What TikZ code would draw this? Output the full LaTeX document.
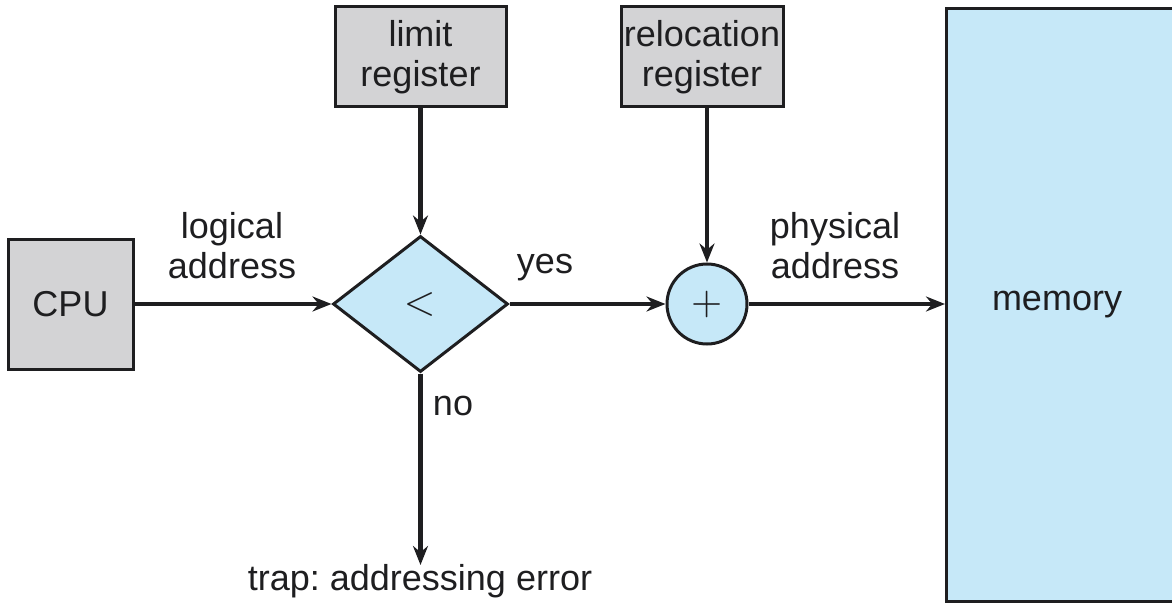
\documentclass[tikz,border=0pt]{standalone}
\usepackage{fontspec}
\setmainfont{Liberation Sans}
\newfontfamily\opfont{Latin Modern Math}
\frenchspacing
\usetikzlibrary{shapes.geometric,arrows.meta}
\definecolor{regfill}{RGB}{211,211,213}
\definecolor{memfill}{RGB}{198,232,248}
\definecolor{ink}{RGB}{30,30,32}
\tikzset{
  lbl/.style={font=\fontsize{36}{40}\selectfont, text=ink, align=center, inner sep=0pt},
  shapeline/.style={draw=ink, line width=3pt},
  regbox/.style={shapeline, fill=regfill, minimum width=171pt, minimum height=100pt, lbl},
  flow/.style={draw=ink, line width=4.2pt, -{Stealth[length=19pt,width=15pt]}},
  op/.style={shapeline, fill=memfill, inner sep=0pt, text=ink, font=\opfont\fontsize{40}{40}\selectfont},
}
\begin{document}
\begin{tikzpicture}[x=1pt,y=-1pt]
\useasboundingbox (0,0) rectangle (1172,604);
% memory block runs off the right edge
\begin{scope}
\clip (0,0) rectangle (1172,604);
\node[shapeline, fill=memfill, minimum width=240pt, minimum height=593pt, anchor=north west, inner sep=0pt] (mem) at (945,7) {};
\end{scope}
\node[lbl] at (1057,305) {memory};
\node[regbox, minimum width=125pt, minimum height=130pt] (cpu) at (70.5,304) {CPU};
\node[regbox] (limit) at (420.5,57) {limit\\register};
\node[regbox, minimum width=162pt] (reloc) at (702,57) {relocation\\register};
\node[op, diamond, minimum width=175pt, minimum height=136pt] (cmp) at (420.5,304) {<};
\node[op, circle, minimum size=80pt] (add) at (707,304) {+};
\coordinate (trap) at (420.5,565);
\draw[flow] (cpu.east |- cmp.west) -- (cmp.west);
\draw[flow] (limit.south) -- (cmp.north);
\draw[flow] (cmp.east) -- (add.west);
\draw[flow] (reloc.south -| add.north) -- (add.north);
\draw[flow] (add.east) -- (add.east -| mem.west);
\draw[flow] (cmp.south) -- (trap);
\node[lbl] at (232,246) {logical\\address};
\node[lbl] at (545,268) {yes};
\node[lbl] at (835,246) {physical\\address};
\node[lbl] at (453,406) {no};
\node[lbl] at (420,581) {trap: addressing error};
\end{tikzpicture}
\end{document}
